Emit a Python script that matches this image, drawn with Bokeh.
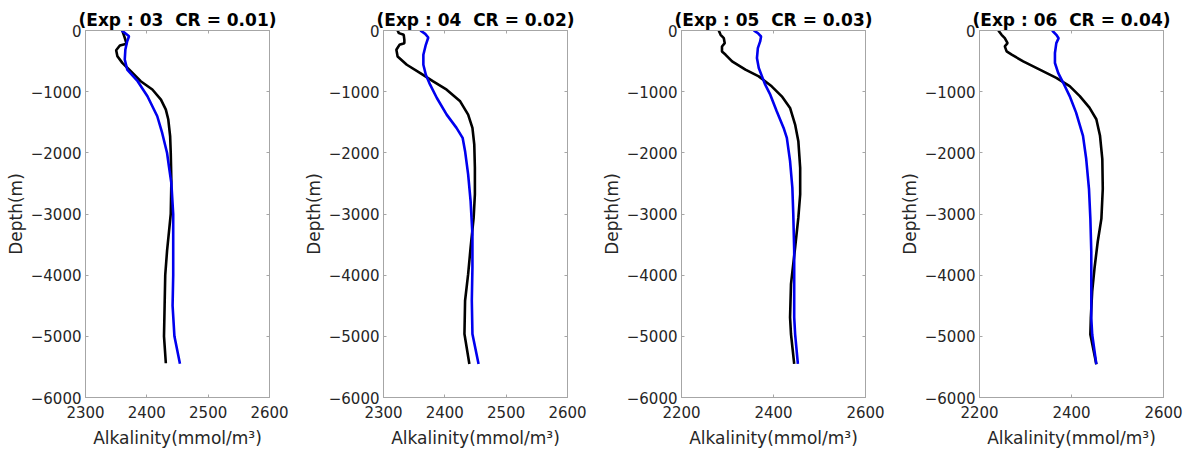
from bokeh.plotting import figure
from bokeh.layouts import row
from bokeh.models import LinearAxis, FixedTicker, Range1d
from bokeh.embed import file_html
from bokeh.resources import INLINE

# ---------------- data ----------------
titles = ["(Exp : 03 \u00a0CR = 0.01)", "(Exp : 04 \u00a0CR = 0.02)",
          "(Exp : 05 \u00a0CR = 0.03)", "(Exp : 06 \u00a0CR = 0.04)"]
x_limits = [(2300, 2600), (2300, 2600), (2200, 2600), (2200, 2600)]
x_ticks = [[2300, 2400, 2500, 2600], [2300, 2400, 2500, 2600],
           [2200, 2400, 2600], [2200, 2400, 2600]]
depth_ticks = [-6000, -5000, -4000, -3000, -2000, -1000, 0]
x_label = "Alkalinity(mmol/m³)"
y_label = "Depth(m)"

# Exp 03 (black / blue profiles)
black_depth_03 = [0, -120, -218, -245, -322, -420, -529, -638, -829, -965, -1129, -1293, -1456,
                  -1729, -2002, -2466, -3000, -3300, -3600, -4000, -4500, -5000, -5440]
black_alk_03 = [2360, 2364, 2367, 2356, 2350, 2352, 2360, 2371, 2390, 2409, 2423, 2431, 2435,
                2438, 2439, 2440, 2439, 2436, 2433, 2430, 2429, 2428, 2431]
blue_depth_03 = [0, -93, -175, -311, -475, -638, -829, -1075, -1402, -1675, -2002, -2220, -2500,
                 -3000, -3500, -4000, -4500, -5000, -5450]
blue_alk_03 = [2359, 2371, 2368, 2365, 2364, 2368, 2385, 2401, 2417, 2425, 2433, 2436, 2440,
               2443, 2443, 2443, 2442, 2445, 2454]

# Exp 04
black_depth_04 = [0, -43, -71, -152, -207, -234, -315, -424, -560, -696, -832, -967, -1158,
                  -1375, -1592, -1864, -2245, -2679, -3060, -3549, -3984, -4418, -4962, -5451]
black_alk_04 = [2323, 2325, 2333, 2334, 2334, 2326, 2321, 2323, 2338, 2360, 2381, 2403, 2425,
                2438, 2445, 2448, 2449, 2449, 2447, 2442, 2438, 2433, 2432, 2440]
blue_depth_04 = [0, -54, -114, -234, -397, -560, -723, -886, -1103, -1375, -1592, -1755, -1973,
                 -2353, -2788, -3332, -3875, -4418, -4962, -5451]
blue_alk_04 = [2360, 2368, 2373, 2369, 2365, 2365, 2369, 2376, 2387, 2403, 2419, 2429, 2433,
               2438, 2442, 2445, 2445, 2444, 2445, 2455]

# Exp 05
black_depth_05 = [0, -71, -125, -207, -261, -342, -397, -505, -641, -750, -913, -1076, -1266,
                  -1538, -1810, -2245, -2679, -3060, -3549, -4147, -4690, -4962, -5451]
black_alk_05 = [2281, 2285, 2292, 2294, 2288, 2288, 2296, 2310, 2339, 2368, 2396, 2418, 2436,
                2447, 2454, 2458, 2458, 2454, 2447, 2438, 2436, 2438, 2445]
blue_depth_05 = [0, -43, -98, -179, -288, -451, -614, -750, -886, -1049, -1321, -1592, -1755,
                 -2136, -2571, -3005, -3603, -4147, -4690, -4962, -5451]
blue_alk_05 = [2357, 2366, 2373, 2371, 2366, 2364, 2368, 2375, 2382, 2393, 2407, 2422, 2429,
               2436, 2441, 2443, 2445, 2445, 2445, 2447, 2453]

# Exp 06
black_depth_06 = [0, -70, -125, -206, -260, -341, -395, -504, -639, -774, -910, -1072, -1262,
                  -1451, -1722, -2101, -2588, -3075, -3454, -3887, -4266, -4700, -4970, -5457]
black_alk_06 = [2241, 2248, 2255, 2261, 2255, 2259, 2270, 2295, 2331, 2367, 2396, 2418, 2439,
                2454, 2462, 2467, 2468, 2465, 2457, 2450, 2445, 2442, 2441, 2454]
blue_depth_06 = [0, -70, -125, -206, -368, -531, -693, -855, -1072, -1343, -1722, -2101, -2588,
                 -3075, -3617, -4158, -4700, -4970, -5457]
blue_alk_06 = [2358, 2367, 2372, 2367, 2364, 2364, 2371, 2382, 2396, 2410, 2425, 2432, 2438,
               2441, 2443, 2443, 2443, 2445, 2454]

black_depths = [black_depth_03, black_depth_04, black_depth_05, black_depth_06]
black_alks = [black_alk_03, black_alk_04, black_alk_05, black_alk_06]
blue_depths = [blue_depth_03, blue_depth_04, blue_depth_05, blue_depth_06]
blue_alks = [blue_alk_03, blue_alk_04, blue_alk_05, blue_alk_06]

# ---------------- style ----------------
FONT = "DejaVu Sans"
BOX = "#a6a6a6"
TXT = "#262626"


def style_axis(ax, labels=True):
    ax.axis_line_color = BOX
    ax.major_tick_line_color = BOX
    ax.major_tick_in = 3
    ax.major_tick_out = 0
    ax.minor_tick_line_color = None
    ax.major_label_text_font = FONT
    ax.major_label_text_color = TXT
    ax.major_label_text_font_size = "15px"
    ax.axis_label_text_font = FONT
    ax.axis_label_text_color = TXT
    ax.axis_label_text_font_size = "17px"
    ax.axis_label_text_font_style = "normal"
    if not labels:
        ax.major_label_text_font_size = "0px"
        ax.major_label_standoff = 0


figs = []
for i in range(4):
    right_border = 29 if i < 3 else 27
    p = figure(width=85 + 184 + right_border, height=451,
               x_range=Range1d(*x_limits[i]), y_range=Range1d(-6000, 0),
               output_backend="svg", toolbar_location=None,
               min_border_left=85, min_border_right=right_border,
               min_border_top=30, min_border_bottom=54,
               background_fill_color="white", border_fill_color="white")
    p.grid.visible = False
    p.outline_line_color = BOX
    p.outline_line_width = 1

    p.title.text = titles[i]
    p.title.align = "center"
    p.title.text_font = FONT
    p.title.text_font_size = "17px"
    p.title.text_font_style = "bold"
    p.title.text_color = "black"
    p.title.standoff = 2

    p.xaxis.ticker = FixedTicker(ticks=x_ticks[i])
    p.yaxis.ticker = FixedTicker(ticks=depth_ticks)
    p.xaxis.axis_label = x_label
    p.yaxis.axis_label = y_label
    style_axis(p.xaxis[0])
    style_axis(p.yaxis[0])
    p.xaxis[0].major_label_standoff = 8
    p.xaxis[0].axis_label_standoff = 7
    p.yaxis[0].major_label_standoff = 4
    p.yaxis[0].axis_label_standoff = 2

    top_ax = LinearAxis(ticker=FixedTicker(ticks=x_ticks[i]))
    style_axis(top_ax, labels=False)
    p.add_layout(top_ax, "above")
    right_ax = LinearAxis(ticker=FixedTicker(ticks=depth_ticks))
    style_axis(right_ax, labels=False)
    p.add_layout(right_ax, "right")

    p.line(black_alks[i], black_depths[i], line_color="black", line_width=2.6)
    p.line(blue_alks[i], blue_depths[i], line_color="#0000ee", line_width=2.6)
    figs.append(p)

layout = row(*figs, spacing=0)
open("out.html", "w").write(file_html(layout, INLINE))
